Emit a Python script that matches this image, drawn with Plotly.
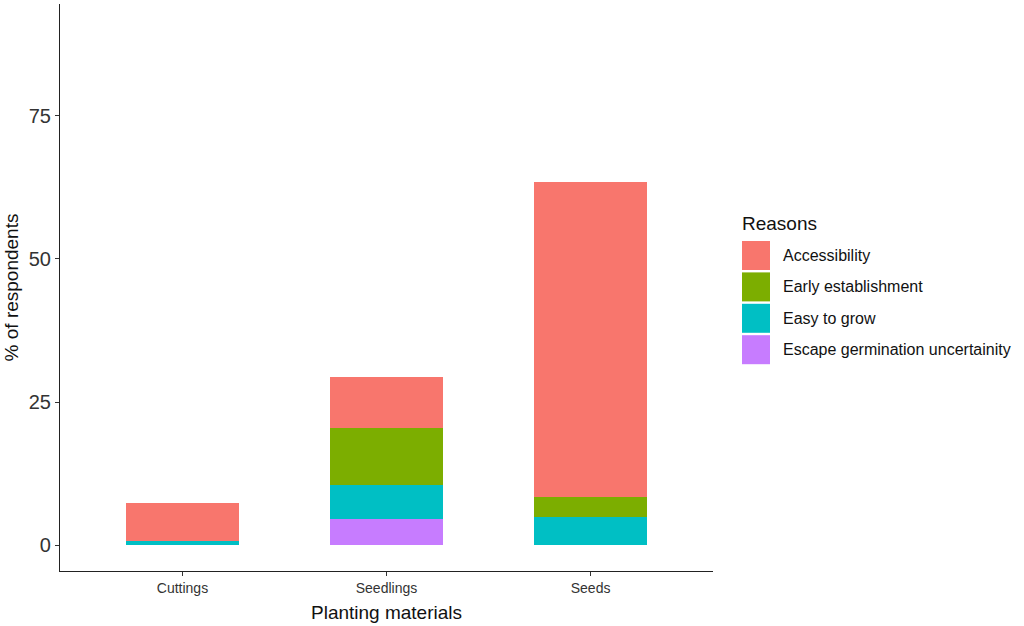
import plotly.graph_objects as go

materials = ["Cuttings", "Seedlings", "Seeds"]
reasons = ["Accessibility", "Early establishment", "Easy to grow", "Escape germination uncertainity"]
accessibility = [6.7, 8.9, 55.0]
early_establishment = [0.0, 10.0, 3.4]
easy_to_grow = [0.7, 6.0, 5.0]
escape_germination = [0.0, 4.5, 0.0]
y_ticks = [0, 25, 50, 75]

colors = ["#F8766D", "#7CAE00", "#00BFC4", "#C77CFF"]
series = [accessibility, early_establishment, easy_to_grow, escape_germination]

FONT = "Arial, Liberation Sans, sans-serif"
W, H = 1024, 626
L, R, T, B = 60, 311, 4, 55

def px_x(p):
    return (p - L) / (W - L - R)

def px_y(p):
    return (H - B - p) / (H - T - B)

fig = go.Figure()
# ggplot stacks the first level on top, so add them bottom-up
for name, vals, col in reversed(list(zip(reasons, series, colors))):
    fig.add_trace(go.Bar(
        x=materials, y=vals, name=name, width=0.55, showlegend=False,
        marker=dict(color=col, line=dict(width=0)),
    ))

# ggplot-style legend with big square keys
fig.add_annotation(x=px_x(740), y=px_y(223), xref="paper", yref="paper",
                   text="Reasons", showarrow=False, xanchor="left", yanchor="middle",
                   font=dict(size=19, color="#111111"))
for i, (name, col) in enumerate(zip(reasons, colors)):
    top = 241 + i * 31.4
    fig.add_shape(type="rect", xref="paper", yref="paper",
                  x0=px_x(742), x1=px_x(770), y0=px_y(top), y1=px_y(top + 29),
                  fillcolor=col, line=dict(width=0))
    fig.add_annotation(x=px_x(781), y=px_y(top + 14.5), xref="paper", yref="paper",
                       text=name, showarrow=False, xanchor="left", yanchor="middle",
                       font=dict(size=16, color="#111111"))

fig.update_layout(
    barmode="stack",
    width=W, height=H,
    margin=dict(l=L, r=R, t=T, b=B),
    paper_bgcolor="white", plot_bgcolor="white",
    font=dict(family=FONT, color="#222222"),
    showlegend=False,
    xaxis=dict(
        range=[-0.6, 2.6], automargin=False,
        showline=True, linecolor="#222222", linewidth=1.2,
        ticks="outside", ticklen=4, tickcolor="#333333",
        tickfont=dict(size=14, color="#333333"),
        title=dict(text="Planting materials", font=dict(size=19, color="#111111"), standoff=10),
        showgrid=False, zeroline=False,
    ),
    yaxis=dict(
        range=[-4.5, 94.5], automargin=False,
        tickvals=y_ticks,
        showline=True, linecolor="#222222", linewidth=1.2,
        ticks="outside", ticklen=4, tickcolor="#333333",
        tickfont=dict(size=20, color="#333333"),
        title=dict(text="% of respondents", font=dict(size=19, color="#111111"), standoff=5),
        showgrid=False, zeroline=False,
    ),
)

# drop the page's default body margin so the figure sits at the window corner
fig.write_html("out.html", config={"displayModeBar": False},
               post_script="document.body.style.margin='0';")
